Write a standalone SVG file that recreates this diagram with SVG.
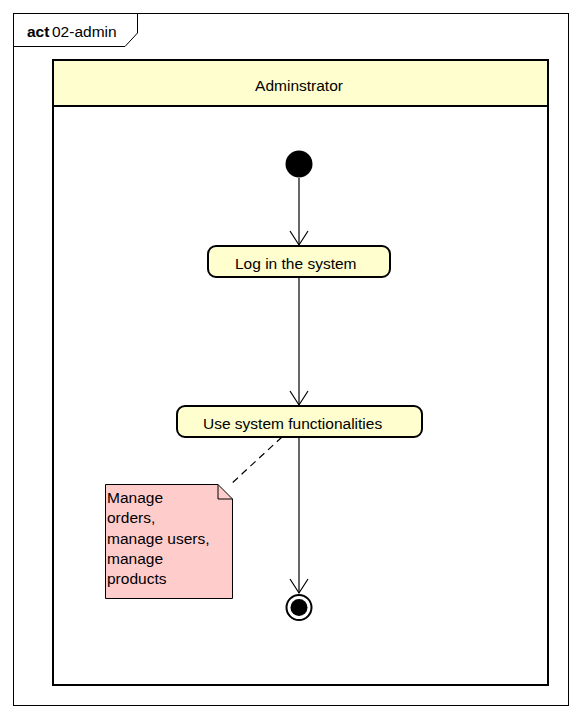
<svg xmlns="http://www.w3.org/2000/svg" width="582" height="718" viewBox="0 0 582 718">
<style>
text{font-family:"Liberation Sans",Arial,sans-serif;font-size:15.5px;fill:#000}
.act{fill:#FEFECE;stroke:#000;stroke-width:2}
.edge{stroke:#000;stroke-width:1.2;fill:none}
</style>
<rect width="582" height="718" fill="#fff"/>
<g id="frame">
<rect x="13.5" y="13.5" width="555" height="692" fill="none" stroke="#000" stroke-width="1"/>
<path d="M13.5 46.5 H125 L137.5 33 V13.5" fill="none" stroke="#000" stroke-width="1"/>
<text x="27" y="37" font-weight="bold">act</text><text x="52" y="37">02-admin</text>
</g>
<g id="lane">
<rect x="53" y="60" width="495" height="625" fill="none" stroke="#000" stroke-width="2"/>
<rect x="53" y="60" width="495" height="46" fill="#FEFECE" stroke="#000" stroke-width="2"/>
<text x="299" y="91" text-anchor="middle">Adminstrator</text>
</g>
<g id="connectors">
<line class="edge" x1="299" y1="178" x2="299" y2="245"/>
<path class="edge" d="M290 231 L299 245 L308 231"/>
<line class="edge" x1="299" y1="277" x2="299" y2="405"/>
<path class="edge" d="M290 391 L299 405 L308 391"/>
<line class="edge" x1="299" y1="437" x2="299" y2="593"/>
<path class="edge" d="M290 579 L299 593 L308 579"/>
<line x1="282" y1="437" x2="230" y2="485" stroke="#000" stroke-width="1.2" stroke-dasharray="7,5"/>
</g>
<g id="start"><circle cx="299" cy="164" r="13.5" fill="#000"/></g>
<g id="login">
<rect class="act" x="208" y="246" width="182" height="31" rx="8"/>
<text x="235" y="269">Log in the system</text>
</g>
<g id="use">
<rect class="act" x="177" y="406" width="245" height="31" rx="8"/>
<text x="203" y="429">Use system functionalities</text>
</g>
<g id="note">
<path d="M105.5 484.5 H218 L232.5 499 V598.5 H105.5 Z" fill="#FFCCCC" stroke="#000" stroke-width="1"/>
<path d="M218 484.5 V499 H232.5" fill="none" stroke="#000" stroke-width="1"/>
<text x="107" y="503">Manage</text>
<text x="107" y="523">orders,</text>
<text x="107" y="543.5">manage users,</text>
<text x="107" y="564">manage</text>
<text x="107" y="584">products</text>
</g>
<g id="end">
<circle cx="299" cy="607.5" r="12.5" fill="#fff" stroke="#000" stroke-width="2"/>
<circle cx="299" cy="607.5" r="8.5" fill="#000"/>
</g>
</svg>
